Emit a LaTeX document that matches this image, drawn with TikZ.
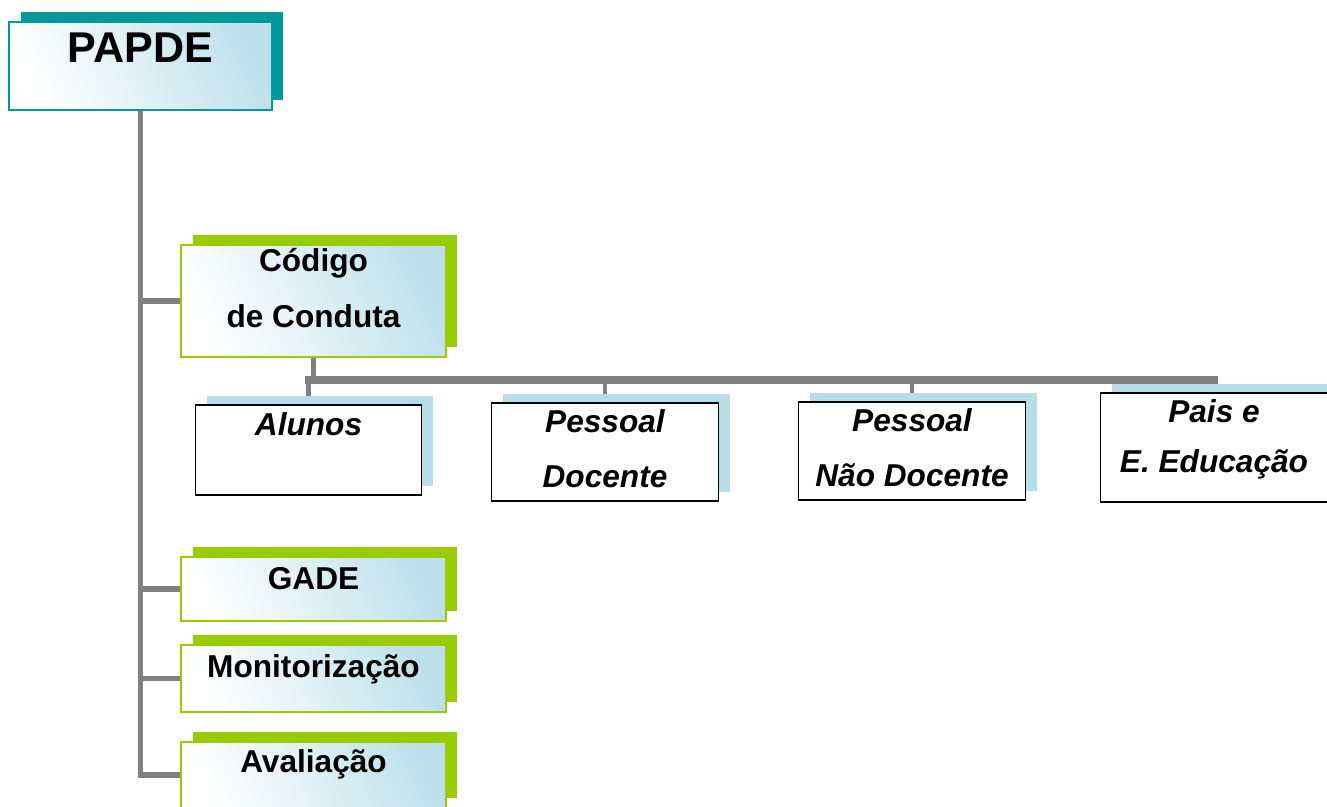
\documentclass[tikz,border=0pt]{standalone}
\usepackage{fontspec}
\setmainfont{Liberation Sans}
\usetikzlibrary{calc}
\usetikzlibrary{shadows,backgrounds}
\definecolor{verde}{RGB}{153,204,0}
\definecolor{petroleo}{RGB}{0,153,153}
\definecolor{azulclaro}{RGB}{183,221,232}
\definecolor{cinza}{RGB}{128,128,128}
\tikzset{caixa/.style={draw=#1,line width=0.8pt,inner sep=0pt,minimum width=5.3cm,
	left color=white,right color=azulclaro!90,shading angle=115,
	copy shadow={shadow xshift=0.23cm,shadow yshift=0.2cm,fill=#1,draw=none}},caixa/.default=verde}
\tikzset{filho/.style={draw=black,line width=0.8pt,fill=white,inner sep=0pt,minimum width=4.53cm,
	copy shadow={shadow xshift=0.23cm,shadow yshift=0.18cm,fill=azulclaro,draw=none}}}
\tikzset{texto/.style={anchor=base,inner sep=0pt,font=\fontsize{#1}{#1}\selectfont\bfseries},texto/.default=18}
\tikzset{linha/.style={color=cinza,line width=#1},linha/.default=3.4pt}

\begin{document}
\begin{tikzpicture}[x=0.02cm,y=-0.02cm]
	\useasboundingbox (0,0) rectangle (1327,807);

	% Caixa principal
	\node[caixa=petroleo,minimum width=5.26cm,minimum height=1.76cm] (papde) at (140.5,66) {};
	\node[texto=24.5] (papdeT) at ($(papde.center)+(0,-3)$) {PAPDE};

	% Coluna de caixas verdes
	\node[caixa,minimum height=2.24cm] (cod) at (313.5,301) {};
	\node[texto] (codA) at ($(cod.center)+(0,-29)$) {Código};
	\node[texto] (codB) at ($(cod.center)+(0,26)$) {de Conduta};

	\node[caixa,minimum height=1.28cm] (gade) at (313.5,589) {};
	\node[texto] (gadeT) at (gade.center) {GADE};

	\node[caixa,minimum height=1.34cm] (mon) at (313.5,678.5) {};
	\node[texto] (monT) at ($(mon.center)+(0,-1)$) {Monitorização};

	\node[caixa,minimum height=1.32cm] (ava) at (313.5,775) {};
	\node[texto] (avaT) at ($(ava.center)+(0,-3)$) {Avaliação};

	% Destinatarios do codigo
	\node[filho,minimum height=1.8cm] (alu) at (308.5,450) {};
	\node[texto,font=\fontsize{18}{18}\selectfont\bfseries\itshape] (aluT) at ($(alu.center)+(0,-15)$) {Alunos};

	\node[filho,minimum height=1.96cm] (doc) at (605,452) {};
	\node[texto,font=\fontsize{18}{18}\selectfont\bfseries\itshape] (docA) at ($(doc.center)+(0,-20)$) {Pessoal};
	\node[texto,font=\fontsize{18}{18}\selectfont\bfseries\itshape] (docB) at ($(doc.center)+(0,35)$) {Docente};

	\node[filho,minimum height=1.96cm] (ndoc) at (912,451) {};
	\node[texto,font=\fontsize{18}{18}\selectfont\bfseries\itshape] (ndocA) at ($(ndoc.center)+(0,-20)$) {Pessoal};
	\node[texto,font=\fontsize{18}{18}\selectfont\bfseries\itshape] (ndocB) at ($(ndoc.center)+(0,35)$) {Não Docente};

	\node[filho,minimum height=2.18cm] (pais) at (1214,447.5) {};
	\node[texto,font=\fontsize{18}{18}\selectfont\bfseries\itshape] (paisA) at ($(pais.center)+(0,-25)$) {Pais e};
	\node[texto,font=\fontsize{18}{18}\selectfont\bfseries\itshape] (paisB) at ($(pais.center)+(0,25)$) {E. Educação};

	% Ligacoes
	\begin{scope}[on background layer]
		\draw[linha] (papde.south) -- (papde.south |- ava.west) -- (ava.west);
		\foreach \c in {cod,gade,mon}
			\draw[linha] (papde.south |- \c.west) -- (\c.west);

		\coordinate (barra) at ($(cod.south)+(0,22)$);
		\draw[linha] (cod.south) -- (barra);
		\draw[linha=4.5pt,line cap=rect] (barra -| alu.north) -- (barra -| pais.north);
		\foreach \f in {alu,doc,ndoc,pais}
			\draw[linha=2.8pt] (barra -| \f.north) -- (\f.north);
	\end{scope}

\end{tikzpicture}
\end{document}
